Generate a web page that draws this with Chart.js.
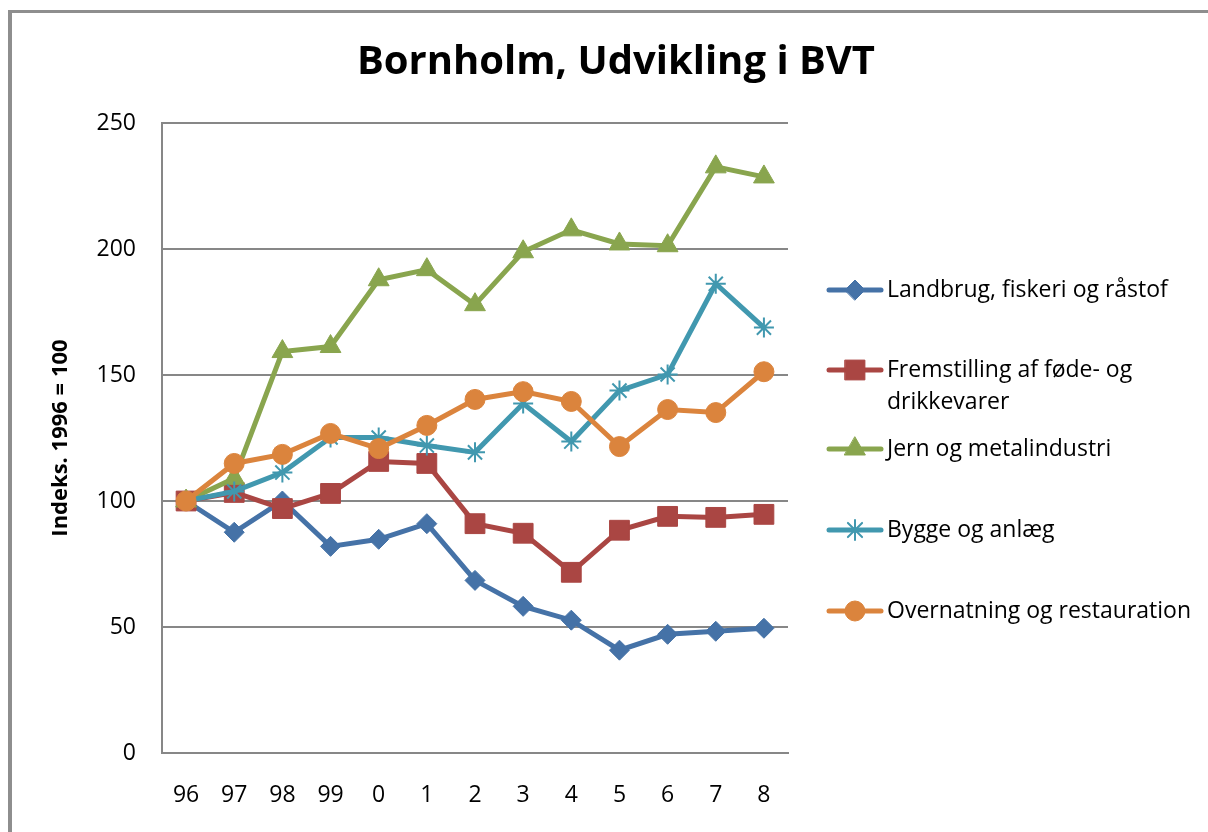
<!DOCTYPE html>
<html>
<head>
<meta charset="utf-8">
<script src="https://cdn.jsdelivr.net/npm/chart.js@4"></script>
<style>
  body { margin: 0; background: #fff; }
  #wrap { position: relative; width: 1208px; height: 832px; }
  #frame { position: absolute; left: 8px; top: 10px; right: 0; bottom: 0;
           border-left: 4px solid #8e8e8e; border-top: 3px solid #8e8e8e; pointer-events: none; }
</style>
</head>
<body>
<div id="wrap">
  <canvas id="myChart" width="1208" height="832"></canvas>
  <div id="frame"></div>
</div>
<script>
// Years on the x axis (1996 - 2008)
let years = ['96', '97', '98', '99', '0', '1', '2', '3', '4', '5', '6', '7', '8'];

// Index values, 1996 = 100
let landbrug = [100, 87.6, 100, 82, 84.8, 91, 68.5, 58.2, 52.7, 40.8, 47.1, 48.3, 49.5];
let fremstilling = [100, 103.4, 97, 103, 115.7, 114.9, 91, 87.2, 71.7, 88.4, 93.9, 93.5, 94.7];
let jern = [100, 109, 159.3, 161.3, 187.8, 191.8, 177.9, 198.9, 207.6, 202, 201.3, 232.6, 228.6];
let bygge = [100, 103.8, 111.3, 125.2, 125.2, 122, 119.3, 138.7, 123.6, 143.8, 150.2, 186.2, 168.8];
let overnatning = [100, 114.9, 118.5, 126.8, 120.8, 130, 140.3, 143.4, 139.5, 121.6, 136.3, 135.1, 151.3];

let seriesNames = ['Landbrug, fiskeri og råstof', ['Fremstilling af føde- og', 'drikkevarer'],
  'Jern og metalindustri', 'Bygge og anlæg', 'Overnatning og restauration'];
let yTicks = [0, 50, 100, 150, 200, 250];

const FONT = '"Open Sans", sans-serif';

function makeSet(label, data, color, style, radius, order) {
    return {
        label: label,
        data: data,
        borderColor: color,
        backgroundColor: color,
        pointBackgroundColor: color,
        pointBorderColor: color,
        borderWidth: 5,
        pointStyle: style,
        pointRadius: radius,
        pointHoverRadius: radius,
        pointBorderWidth: style === 'star' ? 2 : 1,
        tension: 0,
        order: order
    };
}

// Legend drawn by hand so the long label can wrap like in the original
const legendPlugin = {
    id: 'sideLegend',
    afterDraw(chart) {
        const ctx = chart.ctx;
        const rows = [290, 370, 449, 530, 611];
        ctx.save();
        chart.data.datasets.forEach((ds, i) => {
            const y = rows[i];
            ctx.strokeStyle = ds.borderColor;
            ctx.fillStyle = ds.borderColor;
            ctx.lineWidth = 5;
            ctx.lineCap = 'round';
            ctx.beginPath();
            ctx.moveTo(829, y);
            ctx.lineTo(881, y);
            ctx.stroke();
            ctx.lineWidth = ds.pointBorderWidth;
            Chart.helpers.drawPoint(ctx, {
                pointStyle: ds.pointStyle, radius: ds.pointRadius, rotation: 0, borderWidth: ds.pointBorderWidth
            }, 855, y);
            ctx.fillStyle = '#000';
            ctx.font = '23px ' + FONT;
            ctx.textBaseline = 'middle';
            ctx.textAlign = 'left';
            const lines = Array.isArray(seriesNames[i]) ? seriesNames[i] : [seriesNames[i]];
            lines.forEach((t, k) => ctx.fillText(t, 887, y + k * 32));
        });
        ctx.restore();
    }
};

var ctx = document.getElementById('myChart').getContext('2d');
var myChart = new Chart(ctx, {
    type: 'line',
    data: {
        labels: years,
        datasets: [
            makeSet(seriesNames[0], landbrug, '#4572A7', 'rectRot', 10, 4),
            makeSet(seriesNames[1].join(' '), fremstilling, '#AA4643', 'rect', 14, 3),
            makeSet(seriesNames[2], jern, '#89A54E', 'triangle', 12, 2),
            makeSet(seriesNames[3], bygge, '#4198AF', 'star', 10, 1),
            makeSet(seriesNames[4], overnatning, '#DB843D', 'circle', 10, 0)
        ]
    },
    options: {
        responsive: false,
        animation: false,
        layout: { padding: { left: 24, right: 0, top: 0, bottom: 0 } },
        plugins: {
            legend: { display: false },
            tooltip: { enabled: false },
            title: {
                display: true,
                text: 'Bornholm, Udvikling i BVT',
                color: '#000',
                font: { family: FONT, size: 40, weight: 'bold' },
                padding: { top: 39, bottom: 36 }
            }
        },
        scales: {
            x: {
                offset: true,
                grid: { display: false, drawTicks: false },
                border: { color: '#878787', width: 2 },
                ticks: { color: '#000', padding: 29, font: { family: FONT, size: 23 } },
                afterFit: (s) => { s.height = 79; }
            },
            y: {
                min: 0,
                max: 250,
                afterBuildTicks: (s) => { s.ticks = yTicks.map(v => ({ value: v })); },
                grid: { color: '#878787', lineWidth: 2, drawTicks: false },
                border: { color: '#878787', width: 2 },
                ticks: { color: '#000', padding: 26, font: { family: FONT, size: 23 } },
                title: {
                    display: true,
                    text: 'Indeks. 1996 = 100',
                    color: '#000',
                    font: { family: FONT, size: 22, weight: 'bold' },
                    padding: { top: 24, bottom: 0 }
                },
                afterFit: (s) => { s.width = 138; }
            },
            // empty axis on the right that only keeps room for the legend
            side: {
                position: 'right',
                display: true,
                grid: { display: false, drawTicks: false },
                border: { display: false },
                ticks: { display: false },
                afterFit: (s) => { s.width = 420; }
            }
        }
    },
    plugins: [legendPlugin]
});
</script>
</body>
</html>
